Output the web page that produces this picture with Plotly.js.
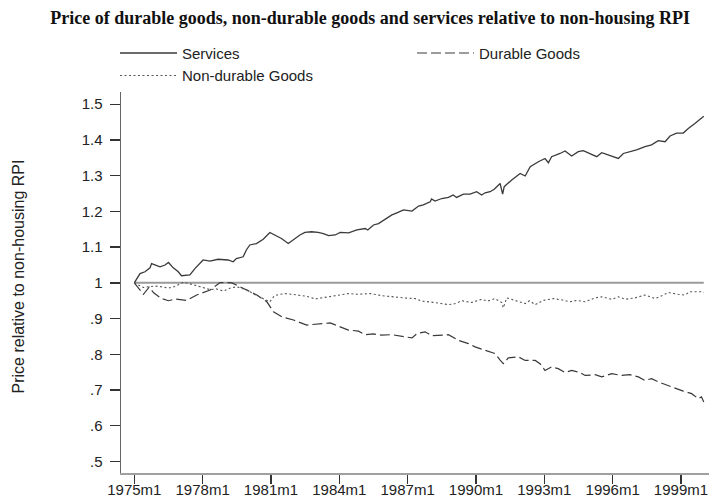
<!DOCTYPE html>
<html>
<head>
<meta charset="utf-8">
<script src="https://cdn.plot.ly/plotly-3.0.1.min.js"></script>
<style>html,body{margin:0;padding:0;background:#fff;}#chart{width:709px;height:502px;}</style>
</head>
<body>
<div id="chart"></div>
<script>
// decimal years (monthly index / 12 + 1975)
var servicesYears = [1975.00,1975.25,1975.47,1975.69,1975.76,1975.90,1976.13,1976.35,1976.50,1976.71,1976.93,1977.07,1977.29,1977.44,1977.66,1977.88,1978.02,1978.32,1978.68,1979.12,1979.34,1979.48,1979.78,1979.92,1980.07,1980.36,1980.66,1980.95,1981.17,1981.46,1981.76,1981.98,1982.27,1982.49,1982.78,1983.07,1983.30,1983.53,1983.82,1984.04,1984.41,1984.77,1985.14,1985.25,1985.50,1985.72,1986.02,1986.31,1986.53,1986.82,1987.19,1987.48,1987.69,1987.99,1988.05,1988.20,1988.50,1988.79,1989.00,1989.15,1989.45,1989.74,1990.03,1990.25,1990.40,1990.62,1990.80,1991.06,1991.17,1991.24,1991.57,1991.94,1992.16,1992.38,1992.74,1993.03,1993.18,1993.32,1993.69,1993.91,1994.20,1994.49,1994.71,1995.00,1995.30,1995.52,1995.81,1996.03,1996.25,1996.47,1996.76,1997.05,1997.42,1997.71,1998.00,1998.30,1998.52,1998.81,1999.10,1999.32,1999.61,1999.90,2000.00];
var servicesValues = [1.000,1.026,1.031,1.042,1.054,1.050,1.045,1.050,1.057,1.042,1.031,1.020,1.020,1.022,1.040,1.054,1.064,1.061,1.066,1.064,1.059,1.068,1.073,1.092,1.106,1.110,1.122,1.141,1.134,1.124,1.110,1.120,1.134,1.141,1.143,1.141,1.138,1.132,1.134,1.141,1.140,1.148,1.152,1.148,1.162,1.166,1.178,1.190,1.196,1.204,1.201,1.215,1.218,1.227,1.235,1.229,1.236,1.239,1.246,1.239,1.248,1.248,1.255,1.246,1.252,1.255,1.262,1.278,1.248,1.269,1.288,1.306,1.299,1.325,1.339,1.348,1.336,1.353,1.362,1.369,1.355,1.367,1.370,1.362,1.353,1.364,1.358,1.353,1.348,1.362,1.367,1.372,1.381,1.386,1.398,1.395,1.411,1.419,1.419,1.432,1.446,1.460,1.466];

var durableYears = [1975.00,1975.40,1975.65,1975.85,1976.20,1976.50,1976.80,1977.30,1977.74,1978.33,1978.77,1979.28,1979.80,1980.38,1980.82,1981.11,1981.48,1981.99,1982.57,1983.16,1983.60,1984.04,1984.40,1984.84,1985.14,1985.50,1985.87,1986.30,1986.82,1987.19,1987.41,1987.77,1988.07,1988.50,1988.79,1989.23,1989.67,1989.96,1990.40,1990.84,1991.06,1991.20,1991.42,1991.86,1992.16,1992.60,1992.81,1993.03,1993.32,1993.61,1993.91,1994.20,1994.57,1994.79,1995.23,1995.52,1995.96,1996.39,1996.76,1997.13,1997.42,1997.71,1998.00,1998.37,1998.73,1999.10,1999.47,1999.76,1999.90,2000.00];
var durableValues = [1.000,0.968,0.988,0.972,0.956,0.950,0.955,0.951,0.966,0.980,1.001,1.000,0.984,0.966,0.947,0.919,0.905,0.896,0.882,0.886,0.888,0.877,0.868,0.865,0.855,0.857,0.854,0.855,0.849,0.846,0.858,0.863,0.852,0.854,0.855,0.839,0.830,0.821,0.811,0.802,0.784,0.774,0.790,0.793,0.783,0.783,0.774,0.755,0.765,0.760,0.749,0.755,0.749,0.741,0.743,0.737,0.746,0.741,0.743,0.737,0.727,0.732,0.723,0.714,0.704,0.697,0.690,0.676,0.681,0.667];

var nondurableYears = [1975.00,1975.18,1975.40,1975.61,1975.90,1976.20,1976.49,1976.78,1977.16,1977.40,1977.66,1977.95,1978.33,1978.60,1978.92,1979.20,1979.50,1979.94,1980.30,1980.55,1980.95,1981.15,1981.40,1981.70,1982.28,1982.60,1982.94,1983.30,1983.67,1984.04,1984.40,1984.80,1985.36,1985.87,1986.20,1986.60,1987.00,1987.33,1987.62,1988.20,1988.79,1989.10,1989.37,1989.81,1990.25,1990.50,1990.84,1991.13,1991.20,1991.35,1991.72,1992.16,1992.35,1992.60,1992.96,1993.40,1993.80,1994.13,1994.42,1994.79,1995.23,1995.52,1995.96,1996.25,1996.55,1996.99,1997.42,1997.86,1998.10,1998.45,1998.88,1999.17,1999.39,1999.90,2000.00];
var nondurableValues = [1.000,0.994,0.987,0.989,0.991,0.989,0.985,0.990,1.002,0.998,0.994,0.988,0.981,0.983,0.977,0.985,0.989,0.980,0.967,0.960,0.947,0.964,0.968,0.970,0.966,0.962,0.955,0.959,0.961,0.966,0.970,0.968,0.970,0.964,0.962,0.958,0.957,0.956,0.949,0.945,0.939,0.942,0.950,0.945,0.954,0.949,0.956,0.945,0.930,0.958,0.951,0.942,0.950,0.939,0.951,0.956,0.952,0.947,0.951,0.947,0.958,0.961,0.954,0.961,0.954,0.958,0.966,0.956,0.962,0.973,0.968,0.966,0.975,0.975,0.972];

var baseline = 1;
var xTickVals = [1975,1978,1981,1984,1987,1990,1993,1996,1999];
var xTickText = ["1975m1","1978m1","1981m1","1984m1","1987m1","1990m1","1993m1","1996m1","1999m1"];
var yTickVals = [0.5,0.6,0.7,0.8,0.9,1,1.1,1.2,1.3,1.4,1.5];
var yTickText = [".5",".6",".7",".8",".9","1","1.1","1.2","1.3","1.4","1.5"];

var lineColor = '#3a3a3a';
var traces = [
  {x: servicesYears, y: servicesValues, name: 'Services', type: 'scatter', mode: 'lines',
   line: {color: lineColor, width: 1.3}},
  {x: durableYears, y: durableValues, name: 'Durable Goods', type: 'scatter', mode: 'lines',
   line: {color: lineColor, width: 1.2, dash: '10px,4px'}},
  {x: nondurableYears, y: nondurableValues, name: 'Non-durable Goods', type: 'scatter', mode: 'lines',
   line: {color: '#555', width: 1.1, dash: '2px,2.5px'}}
];

var layout = {
  width: 709, height: 502,
  margin: {l: 120.7, r: 0, t: 92, b: 29.3, pad: 0},
  paper_bgcolor: '#fff', plot_bgcolor: '#fff',
  font: {family: 'Liberation Sans, Arial, sans-serif', size: 15, color: '#222'},
  title: {text: '<b>Price of durable goods, non-durable goods and services relative to non-housing RPI</b>',
    font: {family: 'Liberation Serif, Times New Roman, serif', size: 18, color: '#111'},
    xref: 'container', x: 0.522, xanchor: 'center', yref: 'container', y: 0.964, yanchor: 'middle'},
  showlegend: true,
  legend: {orientation: 'h', x: -5/588.3, xanchor: 'left', y: 1.145, yanchor: 'top',
    entrywidth: 225, entrywidthmode: 'pixels', itemwidth: 57,
    font: {size: 15, color: '#222'}, bgcolor: 'rgba(0,0,0,0)', tracegroupgap: 0},
  xaxis: {range: [1974.416, 2000.23], tickvals: xTickVals, ticktext: xTickText,
    showgrid: false, zeroline: false, showline: true, linecolor: '#a0a0a0', linewidth: 1.5,
    ticks: 'outside', ticklen: 9, tickwidth: 1.3, tickcolor: '#333', ticklabelstandoff: -7,
    tickfont: {size: 15, color: '#222'}, fixedrange: true},
  yaxis: {range: [0.468, 1.534], tickvals: yTickVals, ticktext: yTickText,
    showgrid: false, zeroline: false, showline: true, linecolor: '#666', linewidth: 1.5,
    ticks: 'outside', ticklen: 10, tickwidth: 1.3, tickcolor: '#333', ticklabelstandoff: 4,
    tickfont: {size: 15, color: '#222'}, fixedrange: true},
  shapes: [{type: 'line', xref: 'x', yref: 'y', x0: 1975, x1: 2000, y0: baseline, y1: baseline,
    line: {color: '#9a9a9a', width: 2}, layer: 'below'}],
  annotations: [{text: 'Price relative to non-housing RPI', xref: 'paper', yref: 'paper',
    x: -102.7/588.3, y: (472.7-276)/380.7, xanchor: 'center', yanchor: 'middle', textangle: -90,
    showarrow: false, font: {size: 16, color: '#222'}}]
};

Plotly.newPlot('chart', traces, layout, {displayModeBar: false, staticPlot: true});
</script>
</body>
</html>
